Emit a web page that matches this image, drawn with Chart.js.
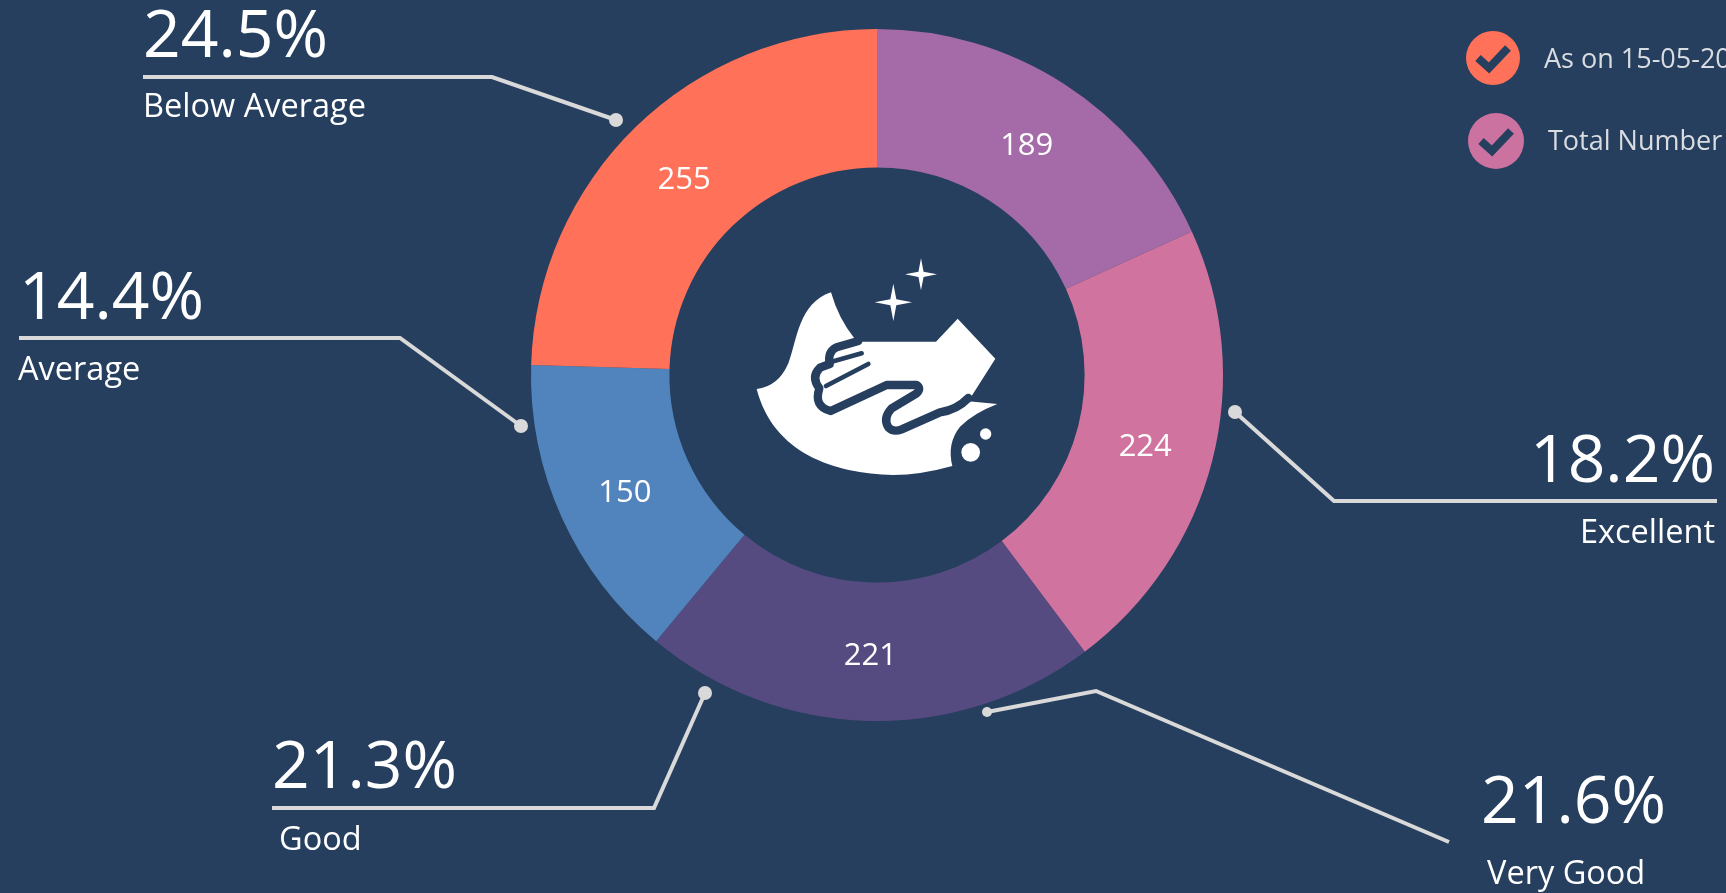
<!DOCTYPE html>
<html><head><meta charset="utf-8">
<script src="https://cdn.jsdelivr.net/npm/chart.js@4"></script>
<style>html,body{margin:0;padding:0;background:#263F5E;overflow:hidden}#w{position:absolute;left:0;top:0;width:1726px;height:893px}</style>
</head><body><div id="w"><canvas id="c" width="1726" height="893"></canvas></div>
<script>
const sliceValues = [189, 224, 221, 150, 255];
const sliceNames = ['Excellent', 'Very Good', 'Good', 'Average', 'Below Average'];
const sliceColors = ['#A56BA8', '#D0749F', '#564B80', '#5183BC', '#FF7259'];
const legendLabels = ['As on 15-05-2020', 'Total Number'];
const legendColors = ['#FF7259', '#CC72A0'];
const calloutPercents = ['24.5%', '14.4%', '18.2%', '21.6%', '21.3%'];
const calloutNames = ['Below Average', 'Average', 'Excellent', 'Very Good', 'Good'];

const BG = '#263F5E', FONT = '"Open Sans"';
const callouts = [
 {line:[[143,77],[492,77],[616,120]], px:143, py:57, nx:143, ny:117, a:'left'},
 {line:[[19,338],[400,338],[521,426]], px:19, py:319, nx:18, ny:380, a:'left'},
 {line:[[1235,412],[1334,501],[1717,501]], px:1715, py:482, nx:1715, ny:543, a:'right'},
 {line:[[987,712],[1096,691],[1449,842]], px:1481, py:823, nx:1487, ny:884, a:'left'},
 {line:[[705,693],[654,808],[272,808]], px:272, py:788, nx:279, ny:850, a:'left'}
];
function star(x,cx,cy,r){const k=r*0.16;x.beginPath();x.moveTo(cx,cy-r);x.lineTo(cx+k,cy-k);x.lineTo(cx+r,cy);x.lineTo(cx+k,cy+k);x.lineTo(cx,cy+r);x.lineTo(cx-k,cy+k);x.lineTo(cx-r,cy);x.lineTo(cx-k,cy-k);x.closePath();x.fill();}
function icon(x){
 x.save();x.translate(720,240);x.scale(1/3,1/3);
 x.fillStyle='#fff';
 x.fill(new Path2D('M110,447 Q175,440 205,370 C232,300 235,190 333,157 Q355,235 403,295 L428,305 L648,305 L713,236 L826,356 L745,484 L832,492 Q760,520 720,560 Q680,610 697,678 Q600,705 520,705 C340,700 160,640 110,447 Z'));
 x.strokeStyle=BG;x.lineCap='round';x.lineJoin='round';x.lineWidth=25;
 x.stroke(new Path2D('M415,303 L350,322 Q322,335 329,372 L300,383 Q272,410 298,445 Q280,500 332,513 L500,435 L590,435 Q605,445 590,460 L515,505 Q488,535 505,562 Q520,578 545,568 L660,517 Q710,510 745,474'));
 x.lineWidth=14;
 x.stroke(new Path2D('M335,365 L425,340 M318,438 L445,372'));
 x.fillStyle='#fff';
 star(x,603,103,48);star(x,520,187,56);
 x.beginPath();x.arc(752,637,28,0,7);x.fill();
 x.beginPath();x.arc(797,582,17,0,7);x.fill();
 x.restore();
}
const overlay = {
 id:'overlay',
 afterDraw(chart){
  const x=chart.ctx;x.save();
  const meta=chart.getDatasetMeta(0);
  x.fillStyle='#fff';x.font='31px '+FONT;x.textAlign='center';x.textBaseline='middle';
  meta.data.forEach((arc,i)=>{const p=arc.getCenterPoint();x.fillText(String(sliceValues[i]),p.x,p.y+4);});
  x.textBaseline='alphabetic';
  callouts.forEach((c,i)=>{
   x.strokeStyle='#D9D9D9';x.lineWidth=4;x.beginPath();
   c.line.forEach((p,j)=>j?x.lineTo(p[0],p[1]):x.moveTo(p[0],p[1]));x.stroke();
   const d=(i===2||i===3||i===4)?c.line[0]:c.line[2];
   x.fillStyle='#D9D9D9';x.beginPath();x.arc(d[0],d[1],i===3?5:7,0,7);x.fill();
   x.fillStyle='#fff';x.textAlign=c.a;
   x.font='66px '+FONT;x.fillText(calloutPercents[i],c.px,c.py);
   x.font='32.5px '+FONT;x.fillText(calloutNames[i],c.nx,c.ny);
  });
  [[1493,58,27,1544,68],[1496,141,28,1548,150]].forEach((l,i)=>{
   x.fillStyle=legendColors[i];x.beginPath();x.arc(l[0],l[1],l[2],0,7);x.fill();
   x.strokeStyle=BG;x.lineWidth=8;x.lineCap='butt';x.lineJoin='miter';x.beginPath();
   x.moveTo(l[0]-15,l[1]);x.lineTo(l[0]-4,l[1]+10);x.lineTo(l[0]+15,l[1]-10);x.stroke();
   x.fillStyle='#D9DCE0';x.textAlign='left';x.font='27px '+FONT;x.fillText(legendLabels[i],l[3],l[4]);
  });
  icon(x);
  x.restore();
 }
};
Chart.defaults.font.family=FONT;
new Chart(document.getElementById('c'),{
 type:'doughnut',
 data:{labels:sliceNames,datasets:[{data:sliceValues,backgroundColor:sliceColors,borderWidth:0}]},
 options:{responsive:false,animation:false,cutout:'60%',
  layout:{padding:{left:531,right:503,top:29,bottom:172}},
  plugins:{legend:{display:false},tooltip:{enabled:false}}},
 plugins:[overlay,{id:'bg',beforeDraw(c){c.ctx.save();c.ctx.fillStyle=BG;c.ctx.fillRect(0,0,c.width,c.height);c.ctx.restore();}}]
});
</script></body></html>
